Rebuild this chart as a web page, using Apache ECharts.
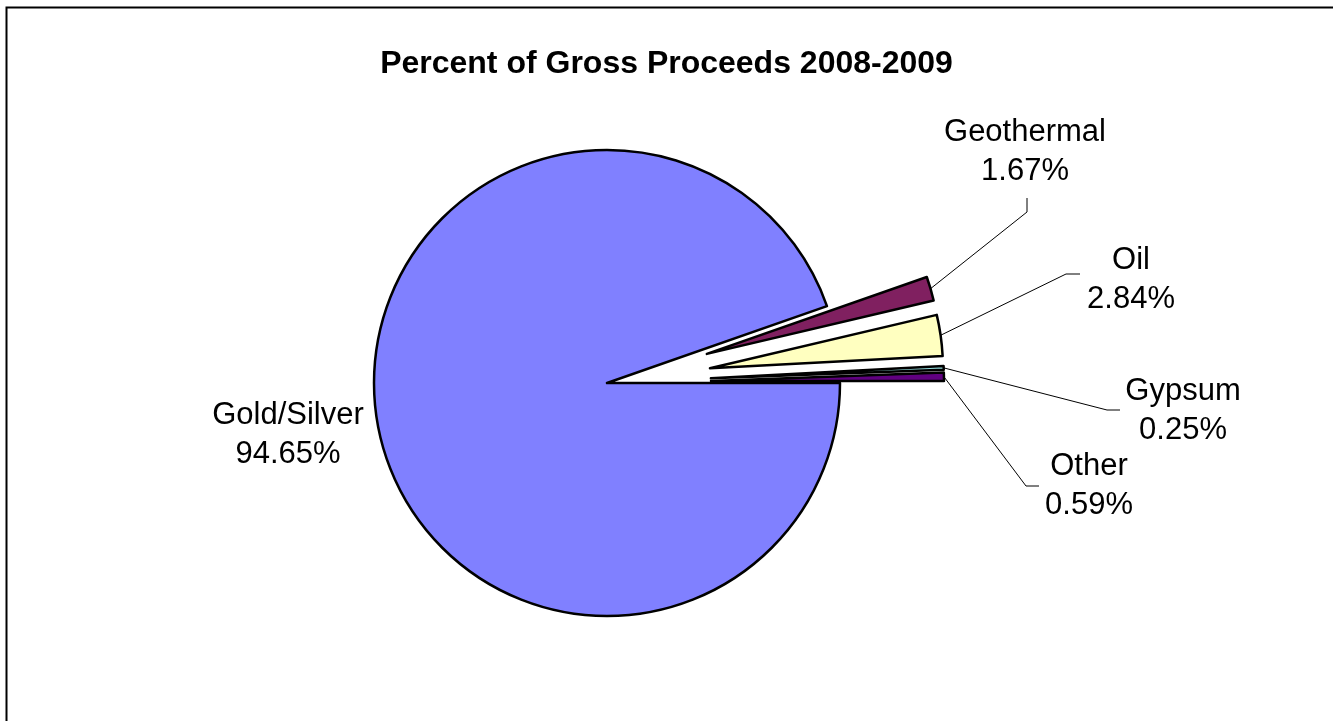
<!DOCTYPE html>
<html>
<head>
<meta charset="utf-8">
<title>Percent of Gross Proceeds 2008-2009</title>
<script src="https://cdn.jsdelivr.net/npm/echarts@6/dist/echarts.min.js"></script>
<style>
  html, body { margin: 0; padding: 0; background: #fff; }
  #chart { width: 1333px; height: 721px; }
</style>
</head>
<body>
<div id="chart"></div>
<script>
// Share of gross proceeds by commodity (percent), listed clockwise
const categories = ['Geothermal', 'Oil', 'Gypsum', 'Other', 'Gold/Silver'];
const shares = [1.67, 2.84, 0.25, 0.59, 94.65];
const exploded = [true, true, true, true, false];
const sliceColors = ['#802060', '#FFFFC0', '#90D8D8', '#600080', '#8080FF'];

// Label placement: text block centre and leader-line bend/end points
const labelCentres = [[1025, 152], [1131, 280], [1183, 411], [1089, 486], [288, 435]];
const leaderBends = [[[1027, 212], [1027, 198]], [[1066, 274], [1080, 274]],
                     [[1107, 410], [1120, 410]], [[1026, 486], [1039, 486]], null];

const PIE_CENTER = [607, 383];
const PIE_RADIUS = 233;
const EXPLODE = 104;
const FONT = '"Liberation Sans", Arial, sans-serif';

const total = shares.reduce((a, b) => a + b, 0);
// the small slices sit just above 3 o'clock; the big slice closes at 3 o'clock
const startAngle = 360 * (total - shares[shares.length - 1]) / total;

// Outer-edge point of an exploded slice on its bisector
function sliceEdge(i) {
  let before = 0;
  for (let k = 0; k < i; k++) before += shares[k];
  const mid = (startAngle - 360 * (before + shares[i] / 2) / total) * Math.PI / 180;
  const d = PIE_RADIUS + (exploded[i] ? EXPLODE : 0);
  return [PIE_CENTER[0] + d * Math.cos(mid), PIE_CENTER[1] - d * Math.sin(mid)];
}

const sliceData = categories.map((name, i) => ({
  name: name,
  value: shares[i],
  selected: exploded[i],
  itemStyle: { color: sliceColors[i] }
}));

const labelData = categories.map((name, i) => ({
  name: name,
  value: shares[i],
  labelLine: { show: leaderBends[i] !== null }
}));

const chart = echarts.init(document.getElementById('chart'), null, { renderer: 'canvas' });

chart.setOption({
  animation: false,
  backgroundColor: '#ffffff',
  title: {
    text: 'Percent of Gross Proceeds 2008-2009',
    left: 'center',
    top: 43,
    textStyle: { fontFamily: FONT, fontSize: 32, fontWeight: 'bold', color: '#000' }
  },
  graphic: [{
    type: 'rect',
    silent: true,
    shape: { x: 6.5, y: 7.5, width: 1400, height: 800 },
    style: { fill: 'none', stroke: '#000', lineWidth: 2 }
  }],
  series: [
    {
      type: 'pie',
      silent: true,
      center: PIE_CENTER,
      radius: PIE_RADIUS,
      startAngle: startAngle,
      clockwise: true,
      selectedMode: 'multiple',
      selectedOffset: EXPLODE,
      avoidLabelOverlap: false,
      label: { show: false },
      labelLine: { show: false },
      itemStyle: { borderColor: '#000', borderWidth: 2.5 },
      select: { itemStyle: { borderColor: '#000', borderWidth: 2.5 } },
      emphasis: { disabled: true },
      data: sliceData
    },
    {
      // transparent twin that carries the value labels and leader lines
      type: 'pie',
      silent: true,
      z: 5,
      center: PIE_CENTER,
      radius: PIE_RADIUS,
      startAngle: startAngle,
      clockwise: true,
      avoidLabelOverlap: false,
      itemStyle: { color: 'rgba(0,0,0,0)', borderWidth: 0 },
      emphasis: { disabled: true },
      label: {
        show: true,
        position: 'outside',
        fontFamily: FONT,
        fontSize: 31,
        lineHeight: 39,
        color: '#000',
        formatter: p => p.name + '\n' + p.value.toFixed(2) + '%'
      },
      labelLine: { show: true, smooth: false, lineStyle: { color: '#000', width: 1 } },
      labelLayout: function (params) {
        const i = params.dataIndex;
        const out = {
          x: labelCentres[i][0],
          y: labelCentres[i][1],
          align: 'center',
          verticalAlign: 'middle'
        };
        if (leaderBends[i]) {
          out.labelLinePoints = [sliceEdge(i), leaderBends[i][0], leaderBends[i][1]];
        }
        return out;
      },
      data: labelData
    }
  ]
});
</script>
</body>
</html>
